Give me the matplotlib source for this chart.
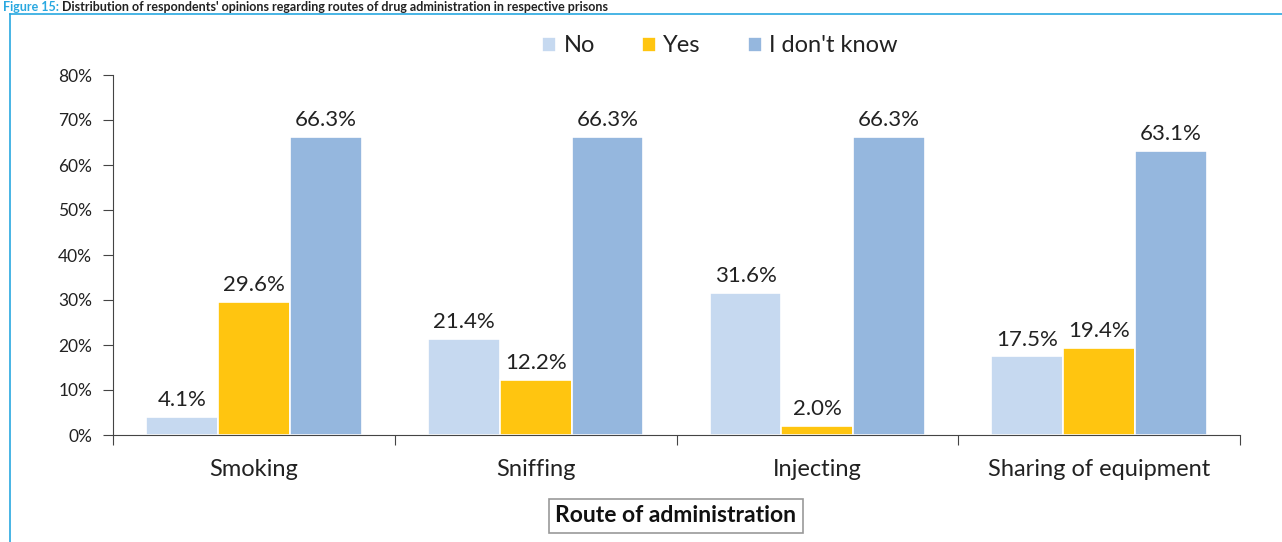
import numpy as np
import matplotlib
matplotlib.use("Agg")
import matplotlib.pyplot as plt
from matplotlib.lines import Line2D

plt.rcParams["font.family"] = ["Lato", "DejaVu Sans"]

routes = ["Smoking", "Sniffing", "Injecting", "Sharing of equipment"]
series = ["No", "Yes", "I don't know"]
no_vals = [4.1, 21.4, 31.6, 17.5]
yes_vals = [29.6, 12.2, 2.0, 19.4]
dk_vals = [66.3, 66.3, 66.3, 63.1]
colors = ["#C6D9F0", "#FFC510", "#95B7DE"]
yticks = [0, 10, 20, 30, 40, 50, 60, 70, 80]

fig = plt.figure(figsize=(12.82, 5.42), dpi=100)
ax = fig.add_axes([113 / 1282, 1 - 435 / 542, 1127 / 1282, 360 / 542])

x = np.arange(len(routes))
w = 0.255
for i, (vals, col, name) in enumerate(zip([no_vals, yes_vals, dk_vals], colors, series)):
    bars = ax.bar(x + (i - 1) * w, vals, width=w, color=col, edgecolor="white",
                  linewidth=1.2, label=name)
    for b, v in zip(bars, vals):
        ax.text(b.get_x() + b.get_width() / 2, v + 1.5, f"{v:.1f}%",
                ha="center", va="bottom", fontsize=16, color="#222222")

ax.set_xlim(-0.5, 3.5)
ax.set_ylim(0, 80)
ax.set_yticks(yticks)
ax.set_yticklabels([f"{t}%" for t in yticks], fontsize=12.5, color="#222222")
ax.set_xticks([0.5 + k for k in range(-1, 4)])
ax.set_xticks(x, minor=True)
ax.set_xticklabels([])
ax.set_xticklabels(routes, minor=True, fontsize=17, color="#222222")
ax.tick_params(axis="x", which="major", direction="out", length=7, color="#444444")
ax.tick_params(axis="x", which="minor", length=0, pad=17)
ax.tick_params(axis="y", direction="out", length=7, color="#444444", pad=8)
for s in ["top", "right"]:
    ax.spines[s].set_visible(False)
for s in ["left", "bottom"]:
    ax.spines[s].set_color("#444444")

# legend sits a bit right of the plot centre in the original
leg = ax.legend(loc="center", bbox_to_anchor=((720 - 113) / 1127, 1 + 29 / 360), ncol=3,
                frameon=False, fontsize=17, handlelength=0.6, handleheight=0.6,
                columnspacing=2.0, handletextpad=0.3, borderpad=0)
for t in leg.get_texts():
    t.set_color("#222222")

fig.text(676 / 1282, 1 - 516 / 542, "Route of administration", ha="center", va="center",
         fontsize=16.5, fontweight="bold", color="#111111",
         bbox=dict(boxstyle="square,pad=0.3", facecolor="white", edgecolor="#999999", linewidth=1.2))

# outer figure frame (cropped)
fig.add_artist(Line2D([10 / 1282, 10 / 1282], [0, 1 - 14 / 542], transform=fig.transFigure,
                      color="#29A8E0", linewidth=1.2))
fig.add_artist(Line2D([10 / 1282, 1], [1 - 14 / 542, 1 - 14 / 542], transform=fig.transFigure,
                      color="#29A8E0", linewidth=1.2))

# figure caption above the frame
t1 = fig.text(0.002, 1 - 1 / 542, "Figure 15: ", ha="left", va="top", fontsize=9,
              fontweight="bold", color="#29A8E0")
fig.canvas.draw()
bb = t1.get_window_extent()
fig.text(bb.x1 / fig.bbox.width, 1 - 1 / 542,
         "Distribution of respondents' opinions regarding routes of drug administration in respective prisons",
         ha="left", va="top", fontsize=9, fontweight="bold", color="#222222")

fig.savefig("out.png", dpi=100)
